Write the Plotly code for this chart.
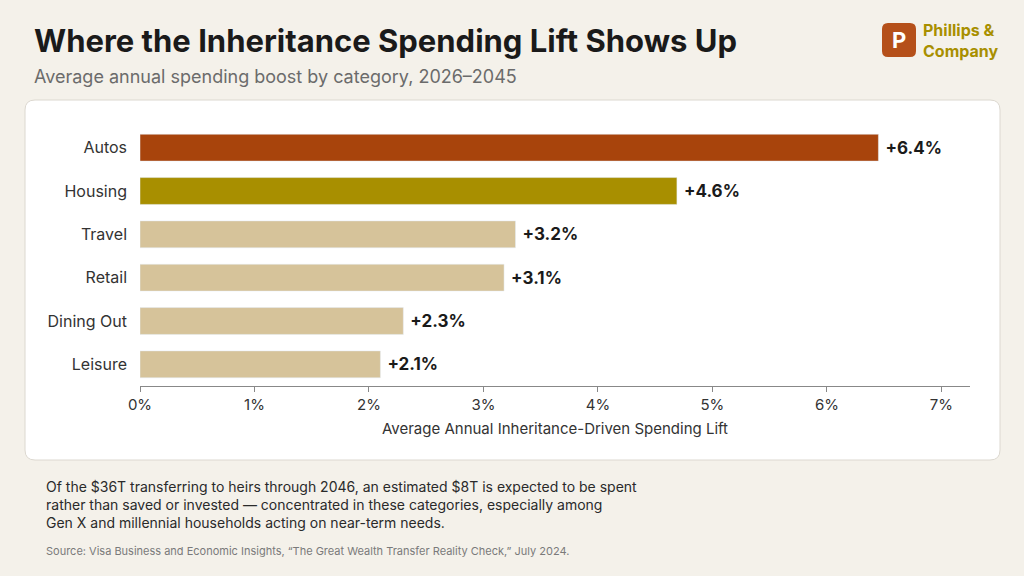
import plotly.graph_objects as go

categories = ['Autos', 'Housing', 'Travel', 'Retail', 'Dining Out', 'Leisure']
values = [6.45, 4.69, 3.28, 3.18, 2.3, 2.1]
labels = ['+6.4%', '+4.6%', '+3.2%', '+3.1%', '+2.3%', '+2.1%']
colors = ['#a8440c', '#a88f00', '#d6c39a', '#d6c39a', '#d6c39a', '#d6c39a']
tick_vals = [0, 1, 2, 3, 4, 5, 6, 7]
tick_text = ['0%', '1%', '2%', '3%', '4%', '5%', '6%', '7%']

W, H = 1024, 576
L, R, T, B = 140, 54, 126, 190
PW, PH = W - L - R, H - T - B

fig = go.Figure()
fig.add_trace(go.Bar(
    y=categories, x=values, orientation='h', marker=dict(color=colors),
    width=0.62, text=['\u00a0' + t for t in labels], textposition='outside', cliponaxis=False,
    textfont=dict(family='Inter', size=17, color='#1a1a1a', weight='bold'),
    hoverinfo='skip'))

# pixel -> paper (paper coords are relative to the plot area)
def px(x): return (x - L) / PW
def py(y): return (H - B - y) / PH

def rounded(x0p, y0p, x1p, y1p, r):
    x0, x1, y0, y1 = px(x0p), px(x1p), py(y0p), py(y1p)
    rx, ry = r / PW, r / PH
    return (f"M{x0+rx},{y0} L{x1-rx},{y0} Q{x1},{y0} {x1},{y0-ry} L{x1},{y1+ry} Q{x1},{y1} {x1-rx},{y1} "
            f"L{x0+rx},{y1} Q{x0},{y1} {x0},{y1+ry} L{x0},{y0-ry} Q{x0},{y0} {x0+rx},{y0} Z")

shapes = [
    dict(type='path', xref='paper', yref='paper', path=rounded(25, 100, 1000, 460, 10),
         fillcolor='white', line=dict(color='#dcd8d0', width=1), layer='below'),
    dict(type='path', xref='paper', yref='paper', path=rounded(882, 23, 916, 57, 6),
         fillcolor='#b5501a', line=dict(width=0), layer='below'),
]

annotations = [
    dict(text='<b>Where the Inheritance Spending Lift Shows Up</b>', x=px(32), y=py(40),
         xanchor='left', yanchor='middle',
         font=dict(family='Inter', size=31, color='#1a1a1a')),
    dict(text='Average annual spending boost by category, 2026–2045', x=px(32), y=py(76),
         xanchor='left', yanchor='middle',
         font=dict(family='Inter', size=18, color='#6b6b6b')),
    dict(text='<b>P</b>', x=px(899), y=py(40), xanchor='center', yanchor='middle',
         font=dict(family='Inter', size=22, color='white')),
    dict(text='<b>Phillips &amp;<br>Company</b>', x=px(921), y=py(40),
         xanchor='left', yanchor='middle', align='left',
         font=dict(family='Inter', size=16, color='#a88f00')),
    dict(text='Of the $36T transferring to heirs through 2046, an estimated $8T is expected to be spent<br>'
              'rather than saved or invested — concentrated in these categories, especially among<br>'
              'Gen X and millennial households acting on near-term needs.',
         x=px(44), y=py(504), xanchor='left', yanchor='middle', align='left',
         font=dict(family='Inter', size=14, color='#2a2a2a')),
    dict(text='Source: Visa Business and Economic Insights, “The Great Wealth Transfer Reality Check,” July 2024.',
         x=px(44), y=py(551), xanchor='left', yanchor='middle',
         font=dict(family='Inter', size=11, color='#7a7a7a')),
]
for a in annotations:
    a.update(xref='paper', yref='paper', showarrow=False)

fig.update_layout(
    width=W, height=H, paper_bgcolor='#f4f1ea', plot_bgcolor='rgba(0,0,0,0)',
    margin=dict(l=L, r=R, t=T, b=B), showlegend=False,
    shapes=shapes, annotations=annotations,
    font=dict(family='Inter', color='#333333'),
    xaxis=dict(range=[0, 7.25], tickvals=tick_vals, ticktext=tick_text, showgrid=False,
               zeroline=False, showline=True, linecolor='#888888', linewidth=1,
               ticks='outside', ticklen=5, tickcolor='#888888',
               tickfont=dict(size=15, color='#333333'),
               title=dict(text='Average Annual Inheritance-Driven Spending Lift',
                          font=dict(size=15, color='#333333'), standoff=10)),
    yaxis=dict(autorange='reversed', showgrid=False, zeroline=False, showline=False,
               ticks='', ticklabelstandoff=12, tickfont=dict(size=16, color='#333333')),
)

fig.write_html('out.html', config={'displayModeBar': False})

# drop the default browser body margin so the figure sits at the page corner
with open('out.html', encoding='utf-8') as f:
    html = f.read()
html = html.replace('<head>', '<head><style>body{margin:0;}</style>', 1)
with open('out.html', 'w', encoding='utf-8') as f:
    f.write(html)
